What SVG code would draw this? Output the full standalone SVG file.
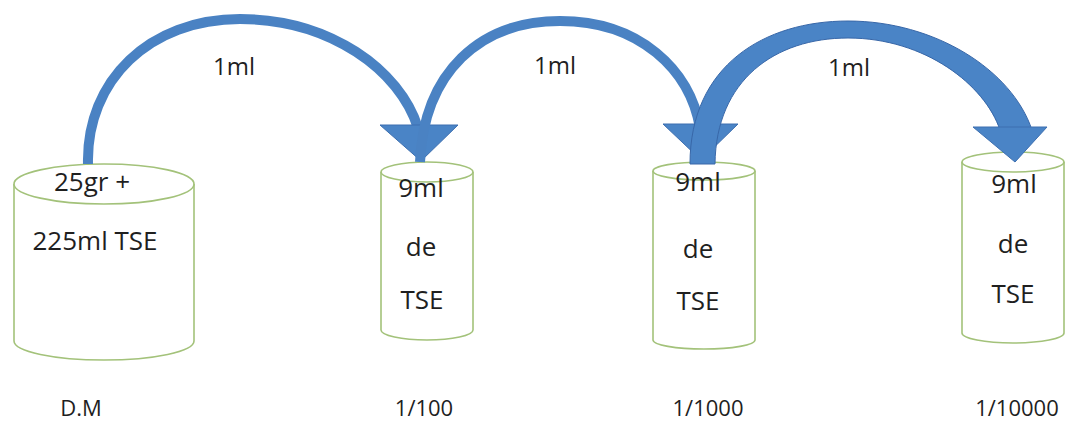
<svg xmlns="http://www.w3.org/2000/svg" width="1068" height="423" viewBox="0 0 1068 423">
<style>
.cyl{fill:#ffffff;stroke:#a3c27a;stroke-width:1.6}
.t{font-family:"Open Sans","Liberation Sans",sans-serif;fill:#1f1f1f;text-anchor:middle;font-weight:500}
.in{font-size:26px}
.ml{font-size:24px}
.lab{font-size:22px}
.shaft{fill:none;stroke:#4a82c3;stroke-width:10}
.head{fill:#4a84c6;stroke:#3d6fb0;stroke-width:1}
</style>
<rect width="1068" height="423" fill="#ffffff"/>
<g id="node-dm">
<path class="cyl" d="M14 184 L14 341 A90 19 0 0 0 194 341 L194 184"/>
<ellipse class="cyl" cx="104" cy="184" rx="90" ry="20"/>
<text class="t in" x="92" y="191">25gr +</text>
<text class="t in" x="95" y="250">225ml TSE</text>
<text class="t lab" x="81" y="416">D.M</text>
</g>
<g id="node-100">
<path class="cyl" d="M381 172 L381 330 A46 10 0 0 0 473 330 L473 172"/>
<ellipse class="cyl" cx="427" cy="172" rx="46" ry="10"/>
<text class="t in" x="421" y="197">9ml</text>
<text class="t in" x="421" y="256">de</text>
<text class="t in" x="422" y="309">TSE</text>
<text class="t lab" x="424" y="416">1/100</text>
</g>
<g id="node-1000">
<path class="cyl" d="M653 171 L653 340 A51 9 0 0 0 755 340 L755 171"/>
<ellipse class="cyl" cx="704" cy="171" rx="51" ry="9"/>
<text class="t in" x="698" y="191">9ml</text>
<text class="t in" x="698" y="258">de</text>
<text class="t in" x="698" y="310">TSE</text>
<text class="t lab" x="708" y="416">1/1000</text>
</g>
<g id="node-10000">
<path class="cyl" d="M962 162 L962 333 A51 10 0 0 0 1064 333 L1064 162"/>
<ellipse class="cyl" cx="1013" cy="162" rx="51" ry="10"/>
<text class="t in" x="1014" y="193">9ml</text>
<text class="t in" x="1013" y="253">de</text>
<text class="t in" x="1013" y="303">TSE</text>
<text class="t lab" x="1017" y="416">1/10000</text>
</g>
<g id="connectors">
<path class="shaft" d="M88 164 C86 80 150 19 240 19 C330 19 400 70 418 128"/>
<polygon class="head" points="380,125 458,125 421,161"/>
<text class="t ml" x="234" y="75">1ml</text>
<path class="shaft" d="M420 162 C424 72 480 21 560 21 C640 21 690 70 700 128"/>
<polygon class="head" points="663,124 738,124 701,160"/>
<text class="t ml" x="555" y="74">1ml</text>
<path d="M690 164 C690 65 765 21 848 21 C935 21 1012 70 1032 130 L1000 130 C985 85 925 38 848 38 C775 38 716 80 715 164 Z" fill="#4a84c6" stroke="#3867a8" stroke-width="1"/>
<polygon class="head" points="973,127 1047,127 1015,162"/>
<text class="t ml" x="849" y="76">1ml</text>
</g>
</svg>
